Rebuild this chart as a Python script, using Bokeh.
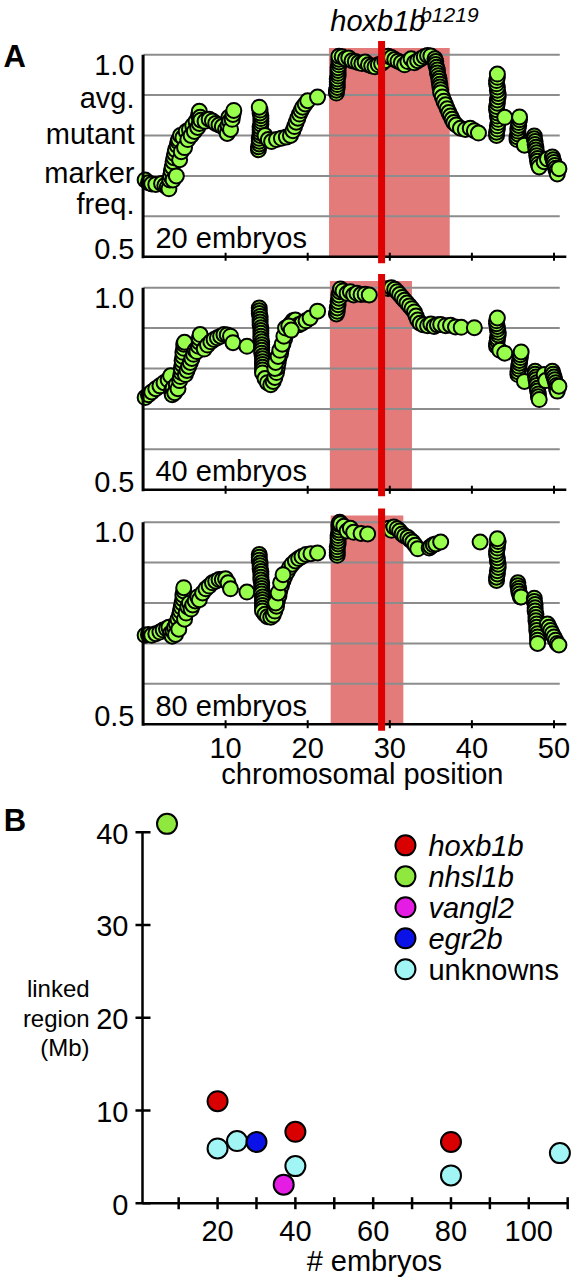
from bokeh.plotting import figure
from bokeh.models import Range1d, Label, ColumnDataSource
from bokeh.layouts import column
from bokeh.embed import file_html
from bokeh.resources import INLINE
from bokeh.core.properties import value

# ---------------------------------------------------------------------------
# Panel A: average mutant marker frequency along the chromosome (Mb)
# each entry is (chromosomal position, avg. mutant marker frequency)
# ---------------------------------------------------------------------------
scan_20 = [
    (0.2, 0.690), (0.6, 0.683), (1.0, 0.680), (1.5, 0.679), (2.2, 0.681),
    (2.6, 0.676), (2.9, 0.672), (3.1, 0.668), (3.2, 0.690), (3.3, 0.700), (3.4, 0.712),
    (3.5, 0.722), (3.6, 0.735), (3.6, 0.690), (3.7, 0.745), (3.8, 0.755), (3.9, 0.765),
    (4.0, 0.700), (4.1, 0.775), (4.2, 0.785), (4.3, 0.790), (4.4, 0.740), (4.5, 0.800),
    (4.6, 0.760), (4.8, 0.795), (5.0, 0.770), (5.2, 0.810), (5.4, 0.790), (5.6, 0.815),
    (5.8, 0.800), (6.0, 0.825), (6.2, 0.810), (6.4, 0.835), (6.6, 0.820), (6.7, 0.850),
    (6.8, 0.860), (6.8, 0.830), (6.9, 0.845), (7.0, 0.838),
    (7.5, 0.835), (8.0, 0.840), (8.4, 0.836), (8.8, 0.830), (9.2, 0.826), (9.6, 0.822),
    (10.0, 0.815), (10.2, 0.805), (10.3, 0.825), (10.4, 0.845), (10.5, 0.835), (10.6, 0.815),
    (10.8, 0.840), (10.9, 0.852), (11.0, 0.862),
    (14.0, 0.765), (14.0, 0.772), (14.1, 0.779), (14.1, 0.786), (14.1, 0.793), (14.2, 0.800),
    (14.2, 0.807), (14.2, 0.814), (14.2, 0.821), (14.3, 0.828), (14.3, 0.835), (14.3, 0.842),
    (14.3, 0.849), (14.2, 0.856), (14.2, 0.863), (14.1, 0.870),
    (14.8, 0.800), (15.2, 0.790), (15.6, 0.785), (16.2, 0.790), (16.8, 0.793), (17.4, 0.796),
    (17.9, 0.800), (18.2, 0.812), (18.4, 0.822), (18.6, 0.833), (18.8, 0.843), (19.0, 0.853),
    (19.2, 0.862), (19.4, 0.870), (19.7, 0.878), (20.0, 0.886), (21.2, 0.895),
    (23.5, 0.905), (23.5, 0.912), (23.6, 0.919), (23.6, 0.926), (23.6, 0.933), (23.6, 0.940),
    (23.7, 0.947), (23.7, 0.954), (23.7, 0.961), (23.7, 0.968), (23.8, 0.975), (23.8, 0.982),
    (23.8, 0.989), (23.8, 0.996),
    (24.2, 0.995), (24.6, 0.990), (25.0, 0.992), (25.4, 0.985), (25.8, 0.983), (26.2, 0.980),
    (26.6, 0.978), (27.0, 0.982), (27.4, 0.975), (27.8, 0.972), (28.2, 0.970), (28.6, 0.975),
    (29.0, 0.978), (29.4, 0.985), (29.8, 0.996), (30.2, 0.993), (30.6, 0.988), (31.0, 0.984),
    (31.4, 0.980), (31.8, 0.975), (32.2, 0.983), (32.6, 0.990), (33.0, 0.980), (33.4, 0.985),
    (33.8, 0.990), (34.2, 0.995), (34.6, 0.998), (35.0, 0.997),
    (35.5, 0.990), (35.6, 0.983), (35.6, 0.976), (35.7, 0.969), (35.8, 0.962), (35.8, 0.955),
    (35.9, 0.948), (36.0, 0.941), (36.0, 0.934), (36.1, 0.927), (36.1, 0.920), (36.2, 0.913),
    (36.2, 0.906),
    (36.4, 0.895), (36.6, 0.885), (36.8, 0.876), (37.0, 0.866), (37.2, 0.857), (37.4, 0.848),
    (37.6, 0.840), (37.8, 0.832), (38.1, 0.826), (38.6, 0.818), (39.2, 0.815), (39.8, 0.818),
    (40.3, 0.812), (40.8, 0.806),
    (43.0, 0.800), (43.0, 0.808), (43.1, 0.816), (43.1, 0.824), (43.2, 0.832), (43.2, 0.840),
    (43.1, 0.848), (43.1, 0.856), (43.0, 0.864), (43.0, 0.872), (43.1, 0.880), (43.1, 0.888),
    (43.2, 0.896), (43.2, 0.904), (43.1, 0.912), (43.1, 0.920), (43.0, 0.928), (43.0, 0.936),
    (43.1, 0.944), (43.1, 0.952),
    (44.0, 0.845),
    (45.5, 0.790), (45.5, 0.797), (45.6, 0.804), (45.6, 0.811), (45.6, 0.818), (45.7, 0.825),
    (45.7, 0.832), (45.8, 0.839), (45.8, 0.846),
    (46.4, 0.776),
    (47.6, 0.799), (47.6, 0.792), (47.7, 0.785), (47.7, 0.778), (47.8, 0.771), (47.8, 0.764),
    (47.9, 0.757), (47.9, 0.750), (48.0, 0.743), (48.0, 0.736), (48.1, 0.729), (48.2, 0.722),
    (48.8, 0.735), (49.2, 0.742),
    (49.8, 0.747), (49.9, 0.740), (50.0, 0.733), (50.1, 0.726), (50.2, 0.719), (50.3, 0.712),
    (50.4, 0.705),
    (50.6, 0.718),
]

scan_40 = [
    (0.2, 0.728), (0.6, 0.735), (1.0, 0.742), (1.5, 0.750), (2.0, 0.757), (2.5, 0.765),
    (3.0, 0.772), (3.3, 0.782),
    (3.4, 0.745), (3.5, 0.735), (3.6, 0.752), (3.8, 0.740), (4.0, 0.760), (4.2, 0.750),
    (4.4, 0.770), (4.5, 0.780), (4.6, 0.790), (4.6, 0.800), (4.7, 0.810), (4.7, 0.820),
    (4.8, 0.830), (4.8, 0.840), (4.9, 0.850), (4.9, 0.860), (5.0, 0.865), (5.1, 0.785),
    (5.3, 0.795), (5.5, 0.805), (5.7, 0.815), (5.9, 0.825), (6.1, 0.835), (6.3, 0.845),
    (6.5, 0.842), (6.7, 0.855), (6.8, 0.865), (6.8, 0.875), (6.9, 0.884),
    (7.4, 0.848), (7.8, 0.858), (8.2, 0.866), (8.6, 0.872), (9.0, 0.876), (9.4, 0.880),
    (9.8, 0.884), (10.2, 0.883), (10.6, 0.880), (10.9, 0.864), (12.6, 0.855),
    (14.1, 0.950), (14.1, 0.943), (14.1, 0.936), (14.2, 0.929), (14.2, 0.922), (14.2, 0.915),
    (14.2, 0.908), (14.3, 0.901), (14.3, 0.894), (14.3, 0.887), (14.3, 0.880), (14.3, 0.873),
    (14.4, 0.866), (14.4, 0.859), (14.4, 0.852), (14.4, 0.845), (14.4, 0.838), (14.5, 0.831),
    (14.5, 0.824), (14.5, 0.817), (14.5, 0.810), (14.5, 0.803), (14.5, 0.796), (14.5, 0.789),
    (14.8, 0.775), (15.1, 0.765), (15.5, 0.760), (15.8, 0.768), (16.0, 0.778), (16.2, 0.790),
    (16.3, 0.802), (16.4, 0.814), (16.5, 0.826), (16.7, 0.838), (16.8, 0.850), (17.0, 0.862),
    (17.2, 0.874), (17.4, 0.886), (17.6, 0.898), (17.9, 0.910), (18.2, 0.918), (18.5, 0.920),
    (18.9, 0.908), (19.3, 0.912), (19.8, 0.918), (20.3, 0.925), (21.2, 0.942),
    (16.0, 0.800), (16.1, 0.815), (16.4, 0.830), (16.6, 0.845), (16.9, 0.860), (17.1, 0.880),
    (17.3, 0.900), (17.7, 0.905), (18.0, 0.895),
    (23.5, 0.935), (23.6, 0.942), (23.6, 0.950), (23.7, 0.958), (23.7, 0.966), (23.8, 0.974),
    (23.8, 0.982), (23.9, 0.990), (24.0, 0.997), (24.3, 0.992), (24.8, 0.986), (25.2, 0.990),
    (25.6, 0.982), (26.0, 0.986), (26.5, 0.983), (27.0, 0.984), (27.5, 0.982),
    (29.8, 0.998), (30.2, 1.000), (30.6, 0.996), (30.9, 0.990), (31.2, 0.983), (31.5, 0.976),
    (31.8, 0.969), (32.1, 0.962), (32.4, 0.955), (32.7, 0.948), (33.0, 0.940), (33.2, 0.930),
    (33.4, 0.920), (33.7, 0.912), (34.1, 0.908), (34.6, 0.906), (35.0, 0.910), (35.4, 0.904),
    (35.8, 0.908), (36.2, 0.909), (36.8, 0.906), (37.4, 0.907), (38.0, 0.903), (38.7, 0.902),
    (40.3, 0.901),
    (43.0, 0.855), (43.0, 0.862), (43.1, 0.869), (43.1, 0.876), (43.2, 0.883), (43.2, 0.890),
    (43.1, 0.897), (43.1, 0.904), (43.0, 0.911), (43.0, 0.918), (43.1, 0.925),
    (43.4, 0.845), (44.0, 0.838),
    (45.6, 0.785), (45.6, 0.792), (45.7, 0.799), (45.7, 0.806), (45.8, 0.813), (45.8, 0.820),
    (45.9, 0.827), (45.9, 0.834), (46.0, 0.841),
    (46.4, 0.768),
    (47.7, 0.793), (47.7, 0.786), (47.8, 0.779), (47.8, 0.772), (47.9, 0.765), (47.9, 0.758),
    (48.0, 0.751), (48.0, 0.744), (48.1, 0.737), (48.1, 0.730), (48.2, 0.723),
    (48.8, 0.785), (49.0, 0.770),
    (49.8, 0.793), (49.9, 0.786), (50.0, 0.779), (50.1, 0.772), (50.2, 0.765), (50.3, 0.758),
    (50.3, 0.751), (50.4, 0.744),
    (50.6, 0.756),
]

scan_80 = [
    (0.2, 0.720), (0.6, 0.722), (1.0, 0.720), (1.5, 0.724), (2.0, 0.728), (2.4, 0.733),
    (2.8, 0.736), (3.1, 0.740), (3.3, 0.725), (3.5, 0.718),
    (3.6, 0.730), (3.8, 0.740), (3.9, 0.722), (4.0, 0.750), (4.2, 0.760), (4.3, 0.735),
    (4.4, 0.770), (4.5, 0.780), (4.6, 0.790), (4.7, 0.800), (4.8, 0.810), (4.8, 0.820),
    (4.9, 0.830), (4.9, 0.838), (5.0, 0.760), (5.2, 0.775), (5.4, 0.790), (5.6, 0.800),
    (5.8, 0.785), (6.0, 0.795), (6.3, 0.805), (6.6, 0.815), (6.8, 0.808), (7.2, 0.825),
    (7.6, 0.835), (8.0, 0.842), (8.4, 0.850), (8.8, 0.854), (9.2, 0.858), (9.6, 0.858),
    (10.0, 0.860), (10.3, 0.850), (10.6, 0.835), (12.6, 0.827),
    (14.1, 0.920), (14.1, 0.913), (14.1, 0.906), (14.2, 0.899), (14.2, 0.892), (14.2, 0.885),
    (14.3, 0.878), (14.3, 0.871), (14.3, 0.864), (14.3, 0.857), (14.4, 0.850), (14.4, 0.843),
    (14.4, 0.836), (14.4, 0.829), (14.4, 0.822), (14.5, 0.815), (14.5, 0.808), (14.5, 0.801),
    (14.5, 0.794), (14.5, 0.787), (14.5, 0.780),
    (14.8, 0.772), (15.1, 0.766), (15.5, 0.765), (15.8, 0.770), (16.0, 0.780), (16.2, 0.792),
    (16.3, 0.805), (16.5, 0.818), (16.6, 0.830), (16.8, 0.843), (17.0, 0.855), (17.2, 0.866),
    (17.5, 0.877), (17.8, 0.888), (18.1, 0.896), (18.5, 0.904), (18.9, 0.910), (19.3, 0.915),
    (19.8, 0.920), (20.4, 0.922), (21.2, 0.924),
    (16.1, 0.800), (16.4, 0.825), (16.7, 0.850), (17.0, 0.870),
    (23.6, 0.918), (23.6, 0.925), (23.6, 0.932), (23.6, 0.939), (23.7, 0.946), (23.7, 0.953),
    (23.7, 0.960), (23.7, 0.967), (23.8, 0.974), (23.8, 0.981), (23.8, 0.988), (23.8, 0.995),
    (23.9, 1.000),
    (24.0, 0.996), (24.4, 0.990), (24.8, 0.978), (25.2, 0.985), (25.6, 0.975), (26.5, 0.972),
    (27.3, 0.971),
    (29.9, 0.985), (30.2, 0.980), (30.5, 0.988), (30.9, 0.984), (31.2, 0.978), (31.5, 0.971),
    (31.8, 0.966), (32.2, 0.962), (32.5, 0.956), (32.8, 0.951), (33.1, 0.943), (33.4, 0.934),
    (34.8, 0.936), (35.0, 0.940), (35.3, 0.944), (35.6, 0.946), (36.2, 0.951),
    (41.0, 0.951),
    (43.0, 0.856), (43.0, 0.864), (43.1, 0.872), (43.1, 0.880), (43.2, 0.888), (43.2, 0.896),
    (43.1, 0.904), (43.1, 0.912), (43.0, 0.920), (43.0, 0.928), (43.1, 0.936), (43.1, 0.944),
    (43.2, 0.952), (43.1, 0.959),
    (45.6, 0.850), (45.6, 0.843), (45.7, 0.836), (45.7, 0.829), (45.8, 0.822), (45.9, 0.815),
    (46.0, 0.815),
    (47.6, 0.812), (47.6, 0.804), (47.7, 0.796), (47.7, 0.788), (47.7, 0.780), (47.8, 0.772),
    (47.8, 0.764), (47.8, 0.756), (47.9, 0.748), (47.9, 0.740), (47.9, 0.732), (48.0, 0.724),
    (48.0, 0.716), (48.0, 0.708), (48.0, 0.700),
    (49.2, 0.748), (49.4, 0.740), (49.6, 0.732), (49.8, 0.724), (50.0, 0.716), (50.2, 0.708),
    (50.4, 0.700),
    (50.6, 0.696),
]

# linked interval (start, end) in Mb for each pool size
linked_20 = (22.6, 37.3)
linked_40 = (22.7, 32.7)
linked_80 = (22.8, 31.65)
mutation_pos = 29.0                     # hoxb1b
pos_ticks = [10, 20, 30, 40, 50]
freq_grid = [0.6, 0.7, 0.8, 0.9, 1.0]

# ---------------------------------------------------------------------------
# Panel B: size of the linked region vs. number of embryos pooled
# ---------------------------------------------------------------------------
embryos = [7, 20, 20, 25, 30, 37, 40, 40, 80, 80, 108]
region_mb = [40.9, 11.0, 5.9, 6.7, 6.6, 2.0, 7.7, 4.0, 6.6, 3.0, 5.4]
gene = ["nhsl1b", "hoxb1b", "unknowns", "unknowns", "egr2b", "vangl2",
        "hoxb1b", "unknowns", "hoxb1b", "unknowns", "unknowns"]
genes = ["hoxb1b", "nhsl1b", "vangl2", "egr2b", "unknowns"]
gene_colors = ["#D80000", "#8FE83E", "#E41CE4", "#0B12E8", "#A2F5F5"]
emb_major = [20, 40, 60, 80, 100]
emb_ticks = [10, 20, 30, 40, 50, 60, 70, 80, 90, 100, 110]
mb_ticks = [0, 10, 20, 30, 40]

# ---------------------------------------------------------------------------
FONT = "Liberation Sans"
LIME = "#99FF4D"
SHADE = "#E37B7B"
RED = "#DD0000"

# pixel scales of the panels
PX_A = 8.21          # px per Mb in panel A
PY_A = 404.0         # px per unit frequency in panel A
PX_B = 3.89          # px per embryo in panel B
PY_B = 9.275         # px per Mb in panel B
BASE_FIX = 0.33      # baseline correction, in em


def label(p, x, y, text, size=29, align="right", style="normal", py=PY_A):
    y = y + BASE_FIX * size / py
    p.add_layout(Label(x=x, y=y, text=text, text_font=FONT, text_font_size=f"{size}px",
                       text_align=align, text_baseline="alphabetic",
                       text_font_style=style, text_color="black"))


def tick_text(p, xs, ys, labels, align, py, size=29):
    p.text(x=xs, y=[v + BASE_FIX * size / py for v in ys], text=labels,
           text_font=value(FONT), text_font_size=value(f"{size}px"),
           text_align=value(align), text_baseline=value("alphabetic"),
           text_color="black")


def bare_figure(height, xr, yr):
    p = figure(width=573, height=height, x_range=Range1d(*xr), y_range=Range1d(*yr),
               x_axis_type=None, y_axis_type=None,
               toolbar_location=None, output_backend="svg",
               min_border=0, min_border_left=0, min_border_right=0,
               min_border_top=0, min_border_bottom=0,
               outline_line_color=None)
    return p


A_X = (-143.0 / PX_A, (573.0 - 143.0) / PX_A)


def scan_panel(scan, linked, pool, height, top_px):
    # top_px: pixel row of the 1.0 grid line inside this figure
    y_end = 1.0 + top_px / PY_A
    p = bare_figure(height, A_X, (y_end - height / PY_A, y_end))
    p.quad(left=[linked[0]], right=[linked[1]], bottom=[0.5], top=[1.0166],
           fill_color=SHADE, line_color=None)
    p.segment(x0=[0] * len(freq_grid), y0=freq_grid,
              x1=[50.7] * len(freq_grid), y1=freq_grid,
              line_color="#8C8C8C", line_width=2)
    xs = [s[0] for s in scan]
    ys = [s[1] for s in scan]
    p.scatter(x=xs, y=ys, size=15, fill_color=LIME, line_color="black", line_width=2.0)
    # axes
    p.segment(x0=[0], y0=[0.5], x1=[51.5], y1=[0.5], line_color="black", line_width=2.5)
    p.segment(x0=[-0.05], y0=[0.496], x1=[-0.05], y1=[1.0], line_color="black", line_width=3)
    tk = 4.0 / PY_A
    p.segment(x0=pos_ticks, y0=[0.5 - tk] * len(pos_ticks), x1=pos_ticks,
              y1=[0.5 + tk] * len(pos_ticks), line_color="black", line_width=2)
    # mutation site
    p.segment(x0=[mutation_pos], y0=[0.484], x1=[mutation_pos], y1=[1.034],
              line_color=RED, line_width=7)
    label(p, -1.1, 0.951, "1.0")
    label(p, -1.1, 0.496, "0.5")
    label(p, 1.46, 0.522, f"{pool} embryos", align="left")
    return p


pa1 = scan_panel(scan_20, linked_20, 20, 270, 54.2)
pa2 = scan_panel(scan_40, linked_40, 40, 235, 17.2)
pa3 = scan_panel(scan_80, linked_80, 80, 290, 16.7)

for txt, yy in [("avg.", 0.868), ("mutant", 0.779), ("marker", 0.684), ("freq.", 0.606)]:
    label(pa1, -1.1, yy, txt)
label(pa1, -17.05, 0.969, "A", size=31, align="left", style="bold")
label(pa1, 22.76, 1.060, "hoxb1b", size=29, align="left", style="italic")
label(pa1, 33.7, 1.0822, "b1219", size=21, align="left", style="italic")

# position tick labels and axis title under the last scan
tick_text(pa3, pos_ticks, [0.5 - 33.0 / PY_A] * len(pos_ticks),
          [str(t) for t in pos_ticks], "center", PY_A)
label(pa3, 26.66, 0.3532, "chromosomal position", align="center")

# --- panel B -------------------------------------------------------------
B_X0 = 0.7                     # where the vertical axis sits
B_BOTTOM_PX = 1280 - 1202.7    # pixels below the Mb = 0 line
B_H = 485
xb = (B_X0 - 142.0 / PX_B, B_X0 + (573.0 - 142.0) / PX_B)
yb = (-B_BOTTOM_PX / PY_B, (B_H - B_BOTTOM_PX) / PY_B)
pb = bare_figure(B_H, xb, yb)

color_of = dict(zip(genes, gene_colors))
src = ColumnDataSource(dict(x=embryos, y=region_mb, gene=gene,
                            color=[color_of[g] for g in gene]))

# axes
pb.segment(x0=[B_X0], y0=[0], x1=[emb_ticks[-1]], y1=[0], line_color="black", line_width=2.5)
pb.segment(x0=[B_X0], y0=[0], x1=[B_X0], y1=[mb_ticks[-1]], line_color="black", line_width=2.5)
tx = 6.0 / PY_B
pb.segment(x0=emb_ticks, y0=[-tx] * len(emb_ticks), x1=emb_ticks, y1=[tx] * len(emb_ticks),
           line_color="black", line_width=2.5)
pb.segment(x0=[B_X0 - 7.0 / PX_B] * len(mb_ticks), y0=mb_ticks,
           x1=[B_X0 + 8.0 / PX_B] * len(mb_ticks), y1=mb_ticks,
           line_color="black", line_width=2.5)
tick_text(pb, emb_major, [-37.3 / PY_B] * len(emb_major),
          [str(t) for t in emb_major], "center", PY_B)
tick_text(pb, [B_X0 - 14.0 / PX_B] * len(mb_ticks), [t - 10.9 / PY_B for t in mb_ticks],
          [str(t) for t in mb_ticks], "right", PY_B)

pb.scatter(x="x", y="y", source=src, size=20, fill_color="color",
           line_color="black", line_width=2)

# legend
LEG_X, LEG_Y0, LEG_DY = 68.3, 38.58, 3.34
leg_y = [LEG_Y0 - i * LEG_DY for i in range(len(genes))]
pb.scatter(x=[LEG_X] * len(genes), y=leg_y, size=20, fill_color=gene_colors,
           line_color="black", line_width=2)
for g, yy in zip(genes, leg_y):
    label(pb, LEG_X + 5.9, yy - 1.08, g, align="left",
          style="normal" if g == "unknowns" else "italic", py=PY_B)

label(pb, 60.3, -7.22, "# embryos", align="center", py=PY_B)
for txt, yy in [("linked", 22.3), ("region", 19.07), ("(Mb)", 15.95)]:
    label(pb, -12.9, yy, txt, size=24, py=PY_B)
label(pb, -35.0, 40.2, "B", size=31, align="left", style="bold", py=PY_B)

layout = column(pa1, pa2, pa3, pb)
open("out.html", "w").write(file_html(layout, INLINE))
